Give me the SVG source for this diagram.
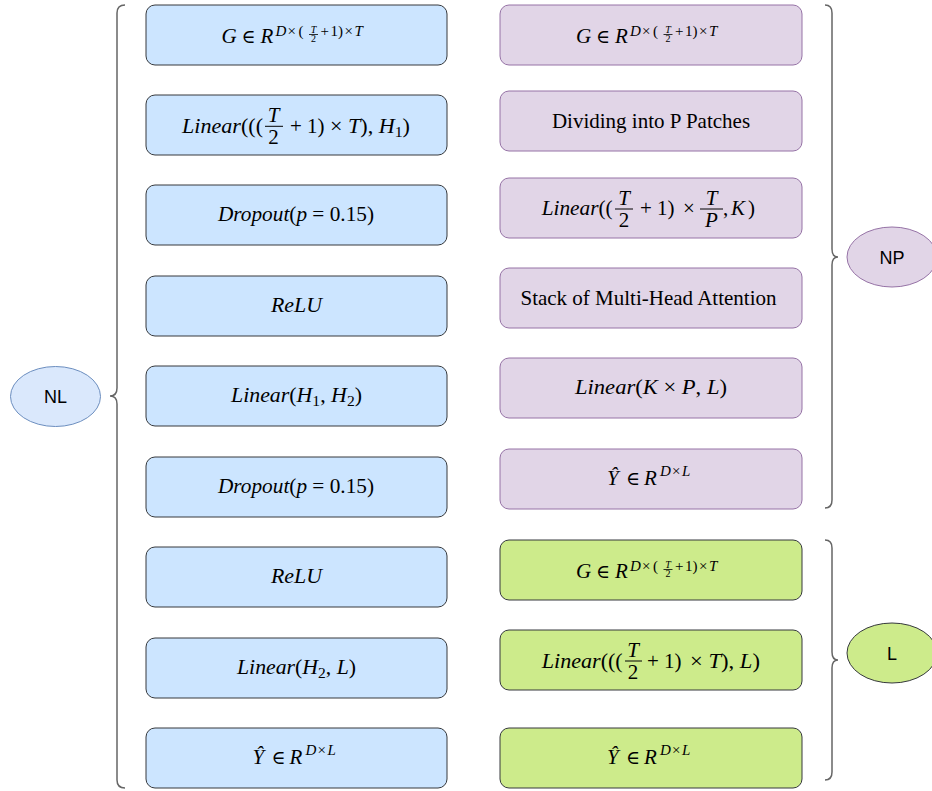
<svg xmlns="http://www.w3.org/2000/svg" width="932" height="791" viewBox="0 0 932 791">
<style>
.bx{stroke-width:1}
.blue{fill:#cce5ff;stroke:#36393d}
.purple{fill:#e1d5e7;stroke:#9673a6}
.green{fill:#cdeb8b;stroke:#36393d}
.m{font-family:"Liberation Serif","DejaVu Serif",serif;font-size:21px;fill:#000}
.i{font-style:italic}
.s{font-size:15px}
.f{font-size:10px}
.e{font-size:19px}
.t{font-family:"Liberation Serif","DejaVu Serif",serif;font-size:21px;fill:#000}
.lbl{font-family:"Liberation Sans",Arial,sans-serif;font-size:18px;fill:#000}
.bar{stroke:#000;stroke-width:1}
.sbar{stroke:#000;stroke-width:0.8}
.brace{fill:none;stroke:#666;stroke-width:1.5}
</style>

<g id="connectors">
<path class="brace" d="M125,5 Q117,5 117,13 L117,388 Q117,396 110,396 Q117,396 117,404 L117,780 Q117,788 125,788"/>
<path class="brace" d="M825,5 Q832,5 832,13 L832,249 Q832,257 838,257 Q832,257 832,265 L832,500 Q832,508 825,508"/>
<path class="brace" d="M825,540 Q832,540 832,548 L832,652 Q832,660 838,660 Q832,660 832,668 L832,772 Q832,780 825,780"/>
</g>

<!-- Left column -->
<g id="nl-1">
<rect class="bx blue" x="146" y="5" width="301" height="60" rx="9"/>
<g transform="translate(296.5,35)">
<text class="m" y="8"><tspan x="-75" class="i">G</tspan><tspan x="-55" class="e">∈</tspan><tspan x="-36" class="i">R</tspan><tspan class="s i" x="-21" dy="-7">D</tspan><tspan class="s" x="-9">×</tspan><tspan class="s" x="2">(</tspan><tspan class="s" x="24">+</tspan><tspan class="s" x="34">1</tspan><tspan class="s" x="41.5">)</tspan><tspan class="s" x="48">×</tspan><tspan class="s i" x="58">T</tspan></text>
<text class="m f i" x="17" y="-2.5" text-anchor="middle">T</text>
<line class="sbar" x1="12.5" x2="21.5" y1="-0.5" y2="-0.5"/>
<text class="m f" x="17" y="6.8" text-anchor="middle">2</text>
</g>
</g>

<g id="nl-2">
<rect class="bx blue" x="146" y="95" width="301" height="60" rx="9"/>
<g transform="translate(296.5,125)">
<text class="m" x="-114.5" y="8" textLength="81" lengthAdjust="spacingAndGlyphs"><tspan class="i">Linear</tspan>(((</text>
<text class="m i" x="-23" y="-3" text-anchor="middle">T</text>
<line class="bar" x1="-31.5" x2="-13.5" y1="1.3" y2="1.3"/>
<text class="m" x="-23" y="19.3" text-anchor="middle">2</text>
<text class="m" x="-6.5" y="8">+ 1)</text>
<text class="m" x="33.5" y="8" textLength="80" lengthAdjust="spacingAndGlyphs">× <tspan class="i">T</tspan>), <tspan class="i">H</tspan><tspan class="s" dy="4">1</tspan><tspan dy="-4">)</tspan></text>
</g>
</g>

<g id="nl-3">
<rect class="bx blue" x="146" y="185" width="301" height="60" rx="9"/>
<text class="m" x="296" y="221" text-anchor="middle" textLength="156" lengthAdjust="spacingAndGlyphs"><tspan class="i">Dropout</tspan>(<tspan class="i">p</tspan> = 0.15)</text>
</g>

<g id="nl-4">
<rect class="bx blue" x="146" y="276" width="301" height="60" rx="9"/>
<text class="m i" x="296.5" y="312" text-anchor="middle" textLength="51" lengthAdjust="spacingAndGlyphs">ReLU</text>
</g>

<g id="nl-5">
<rect class="bx blue" x="146" y="366" width="301" height="60" rx="9"/>
<text class="m" x="296.5" y="402" text-anchor="middle" textLength="131" lengthAdjust="spacingAndGlyphs"><tspan class="i">Linear</tspan>(<tspan class="i">H</tspan><tspan class="s" dy="4">1</tspan><tspan dy="-4">, </tspan><tspan class="i">H</tspan><tspan class="s" dy="4">2</tspan><tspan dy="-4">)</tspan></text>
</g>

<g id="nl-6">
<rect class="bx blue" x="146" y="457" width="301" height="60" rx="9"/>
<text class="m" x="296" y="493" text-anchor="middle" textLength="156" lengthAdjust="spacingAndGlyphs"><tspan class="i">Dropout</tspan>(<tspan class="i">p</tspan> = 0.15)</text>
</g>

<g id="nl-7">
<rect class="bx blue" x="146" y="547" width="301" height="60" rx="9"/>
<text class="m i" x="296.5" y="583" text-anchor="middle" textLength="51" lengthAdjust="spacingAndGlyphs">ReLU</text>
</g>

<g id="nl-8">
<rect class="bx blue" x="146" y="638" width="301" height="60" rx="9"/>
<text class="m" x="296.5" y="674" text-anchor="middle" textLength="119" lengthAdjust="spacingAndGlyphs"><tspan class="i">Linear</tspan>(<tspan class="i">H</tspan><tspan class="s" dy="4">2</tspan><tspan dy="-4">, </tspan><tspan class="i">L</tspan>)</text>
</g>

<g id="nl-9">
<rect class="bx blue" x="146" y="728" width="301" height="60" rx="9"/>
<g transform="translate(296.5,758)">
<text class="m" y="6"><tspan x="-44" class="i">Ŷ</tspan><tspan x="-25" class="e">∈</tspan><tspan x="-7" class="i">R</tspan><tspan class="s i" x="9" dy="-9">D</tspan><tspan class="s" x="21">×</tspan><tspan class="s i" x="31">L</tspan></text>
</g>
</g>

<!-- Right column -->
<g id="np-1">
<rect class="bx purple" x="500" y="5" width="302" height="60" rx="9"/>
<g transform="translate(651,35)">
<text class="m" y="8"><tspan x="-75" class="i">G</tspan><tspan x="-55" class="e">∈</tspan><tspan x="-36" class="i">R</tspan><tspan class="s i" x="-21" dy="-7">D</tspan><tspan class="s" x="-9">×</tspan><tspan class="s" x="2">(</tspan><tspan class="s" x="24">+</tspan><tspan class="s" x="34">1</tspan><tspan class="s" x="41.5">)</tspan><tspan class="s" x="48">×</tspan><tspan class="s i" x="58">T</tspan></text>
<text class="m f i" x="17" y="-2.5" text-anchor="middle">T</text>
<line class="sbar" x1="12.5" x2="21.5" y1="-0.5" y2="-0.5"/>
<text class="m f" x="17" y="6.8" text-anchor="middle">2</text>
</g>
</g>

<g id="np-2">
<rect class="bx purple" x="500" y="91" width="302" height="60" rx="9"/>
<text class="t" x="651" y="128" text-anchor="middle">Dividing into P Patches</text>
</g>

<g id="np-3">
<rect class="bx purple" x="500" y="178" width="302" height="60" rx="9"/>
<g transform="translate(651,208)">
<text class="m" x="-109.3" y="7" textLength="71" lengthAdjust="spacingAndGlyphs"><tspan class="i">Linear</tspan>((</text>
<text class="m i" x="-27" y="-3.5" text-anchor="middle">T</text>
<line class="bar" x1="-36" x2="-18" y1="1" y2="1"/>
<text class="m" x="-27" y="19" text-anchor="middle">2</text>
<text class="m" x="-11" y="7">+ 1)</text>
<text class="m" x="32" y="7">×</text>
<text class="m i" x="60.5" y="-3.5" text-anchor="middle">T</text>
<line class="bar" x1="49" x2="72" y1="1" y2="1"/>
<text class="m i" x="60.5" y="19" text-anchor="middle">P</text>
<text class="m" y="7"><tspan x="72">,</tspan><tspan x="80" class="i">K</tspan><tspan x="97">)</tspan></text>
</g>
</g>

<g id="np-4">
<rect class="bx purple" x="500" y="268" width="302" height="60" rx="9"/>
<text class="t" x="648.5" y="305" text-anchor="middle">Stack of Multi-Head Attention</text>
</g>

<g id="np-5">
<rect class="bx purple" x="500" y="358" width="302" height="60" rx="9"/>
<text class="m" x="651" y="394" text-anchor="middle" textLength="152" lengthAdjust="spacingAndGlyphs"><tspan class="i">Linear</tspan>(<tspan class="i">K</tspan> × <tspan class="i">P</tspan>, <tspan class="i">L</tspan>)</text>
</g>

<g id="np-6">
<rect class="bx purple" x="500" y="449" width="302" height="60" rx="9"/>
<g transform="translate(651,479)">
<text class="m" y="6"><tspan x="-44" class="i">Ŷ</tspan><tspan x="-25" class="e">∈</tspan><tspan x="-7" class="i">R</tspan><tspan class="s i" x="9" dy="-9">D</tspan><tspan class="s" x="21">×</tspan><tspan class="s i" x="31">L</tspan></text>
</g>
</g>

<g id="l-1">
<rect class="bx green" x="500" y="540" width="302" height="60" rx="9"/>
<g transform="translate(651,570)">
<text class="m" y="8"><tspan x="-75" class="i">G</tspan><tspan x="-55" class="e">∈</tspan><tspan x="-36" class="i">R</tspan><tspan class="s i" x="-21" dy="-7">D</tspan><tspan class="s" x="-9">×</tspan><tspan class="s" x="2">(</tspan><tspan class="s" x="24">+</tspan><tspan class="s" x="34">1</tspan><tspan class="s" x="41.5">)</tspan><tspan class="s" x="48">×</tspan><tspan class="s i" x="58">T</tspan></text>
<text class="m f i" x="17" y="-2.5" text-anchor="middle">T</text>
<line class="sbar" x1="12.5" x2="21.5" y1="-0.5" y2="-0.5"/>
<text class="m f" x="17" y="6.8" text-anchor="middle">2</text>
</g>
</g>

<g id="l-2">
<rect class="bx green" x="500" y="630" width="302" height="60" rx="9"/>
<g transform="translate(651,660)">
<text class="m" x="-109.3" y="7.5" textLength="81" lengthAdjust="spacingAndGlyphs"><tspan class="i">Linear</tspan>(((</text>
<text class="m i" x="-18" y="-3" text-anchor="middle">T</text>
<line class="bar" x1="-26" x2="-9" y1="1" y2="1"/>
<text class="m" x="-18" y="19" text-anchor="middle">2</text>
<text class="m" x="-4" y="7.5">+ 1)</text>
<text class="m" x="39" y="7.5" textLength="70" lengthAdjust="spacingAndGlyphs">× <tspan class="i">T</tspan>), <tspan class="i">L</tspan>)</text>
</g>
</g>

<g id="l-3">
<rect class="bx green" x="500" y="728" width="302" height="60" rx="9"/>
<g transform="translate(651,758)">
<text class="m" y="6"><tspan x="-44" class="i">Ŷ</tspan><tspan x="-25" class="e">∈</tspan><tspan x="-7" class="i">R</tspan><tspan class="s i" x="9" dy="-9">D</tspan><tspan class="s" x="21">×</tspan><tspan class="s i" x="31">L</tspan></text>
</g>
</g>

<!-- Ellipse labels -->
<g id="NL">
<ellipse cx="55.5" cy="396.5" rx="45" ry="30" fill="#dae8fc" stroke="#6c8ebf"/>
<text class="lbl" x="55.5" y="403" text-anchor="middle">NL</text>
</g>
<g id="NP">
<ellipse cx="892" cy="257" rx="45" ry="30" fill="#e1d5e7" stroke="#9673a6"/>
<text class="lbl" x="892" y="263.5" text-anchor="middle">NP</text>
</g>
<g id="L">
<ellipse cx="892" cy="653" rx="45" ry="30" fill="#cdeb8b" stroke="#36393d"/>
<text class="lbl" x="892" y="659.5" text-anchor="middle">L</text>
</g>
</svg>
